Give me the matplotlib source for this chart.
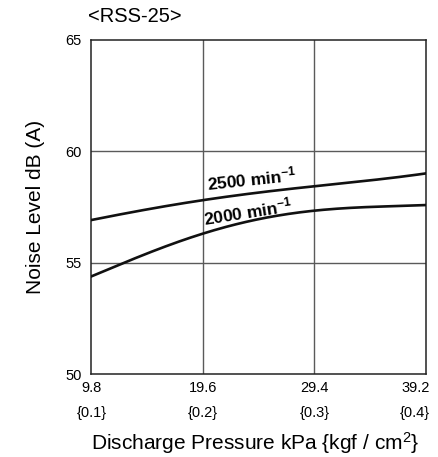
import numpy as np
import matplotlib
matplotlib.use("Agg")
import matplotlib.pyplot as plt
import matplotlib.transforms as mtransforms

plt.rcParams['font.family'] = ['Liberation Sans', 'DejaVu Sans']
plt.rcParams['mathtext.fontset'] = 'custom'
plt.rcParams['mathtext.rm'] = 'Liberation Sans'
plt.rcParams['mathtext.it'] = 'Liberation Sans:italic'
plt.rcParams['mathtext.bf'] = 'Liberation Sans:bold'
plt.rcParams['mathtext.default'] = 'rm'

# Discharge pressure (kPa) and matching kgf/cm2 labels
pressure_kpa = [9.8, 19.6, 29.4, 39.2]
pressure_kgf = ["{0.1}", "{0.2}", "{0.3}", "{0.4}"]
noise_ticks = [50, 55, 60, 65]

# Noise level curves
curve_x = [9.8, 12.2, 14.7, 19.6, 24.4, 29.4, 34.1, 39.2]
noise_2500 = [56.93, 57.15, 57.40, 57.82, 58.16, 58.41, 58.71, 59.01]
noise_2000 = [54.40, 54.90, 55.42, 56.32, 56.96, 57.32, 57.52, 57.59]

fig = plt.figure(figsize=(4.39, 4.57), dpi=100)
ax = fig.add_axes([0.2084, 0.181, 0.7620, 0.7315])

ax.set_xlim(9.8, 39.2)
ax.set_ylim(50, 65)

for xv in pressure_kpa[1:-1]:
    ax.axvline(xv, color="#5a5a5a", lw=1.0, zorder=1)
for yv in noise_ticks[1:-1]:
    ax.axhline(yv, color="#5a5a5a", lw=1.0, zorder=1)

def smooth(xs, ys):
    xx = np.linspace(xs[0], xs[-1], 200)
    coeffs = np.polyfit(xs, ys, 4)
    return xx, np.polyval(coeffs, xx)

xx, yy = smooth(curve_x, noise_2500)
ax.plot(xx, yy, color="#111111", lw=1.9, zorder=3)
xx, yy = smooth(curve_x, noise_2000)
ax.plot(xx, yy, color="#111111", lw=1.9, zorder=3)

ax.text(20.0, 58.23, r"2500 min$^{\mathregular{-1}}$", fontsize=12.5, fontweight="bold",
        rotation=6, rotation_mode="anchor", ha="left", va="baseline", zorder=4)
ax.text(19.7, 56.69, r"2000 min$^{\mathregular{-1}}$", fontsize=12.5, fontweight="bold",
        rotation=9, rotation_mode="anchor", ha="left", va="baseline", zorder=4)

for s in ax.spines.values():
    s.set_color("#222222")
    s.set_linewidth(1.1)

ax.set_xticks(pressure_kpa)
ax.set_xticklabels([f"{v:.1f}" for v in pressure_kpa], fontsize=10.5)
ax.set_yticks(noise_ticks)
ax.set_yticklabels([str(v) for v in noise_ticks], fontsize=10.5)
ax.tick_params(axis="both", length=0)
ax.tick_params(axis="x", pad=4.5)
ax.tick_params(axis="y", pad=7)

# keep the rightmost labels inside the figure edge
ax.get_xticklabels()[-1].set_horizontalalignment("right")
shift = mtransforms.ScaledTranslation(4 / 100, 0, fig.dpi_scale_trans)
ax.get_xticklabels()[-1].set_transform(ax.get_xticklabels()[-1].get_transform() + shift)

base = ax.get_xaxis_transform()
for i, (xv, lab) in enumerate(zip(pressure_kpa, pressure_kgf)):
    last = i == len(pressure_kpa) - 1
    tr = base + shift if last else base
    ax.text(xv, -0.116, lab, transform=tr,
            ha="right" if last else "center", va="center", fontsize=10.5)

ax.set_xlabel(r"Discharge Pressure kPa {kgf / cm$^{2}$}", fontsize=15)
ax.xaxis.set_label_coords(0.49, -0.168)
ax.set_ylabel("Noise Level dB (A)", fontsize=15)
ax.yaxis.set_label_coords(-0.14, 0.5)

fig.text(88 / 439, 1 - 22 / 457, "<RSS-25>", fontsize=14.5, ha="left", va="baseline")

fig.savefig("out.png", dpi=100)
